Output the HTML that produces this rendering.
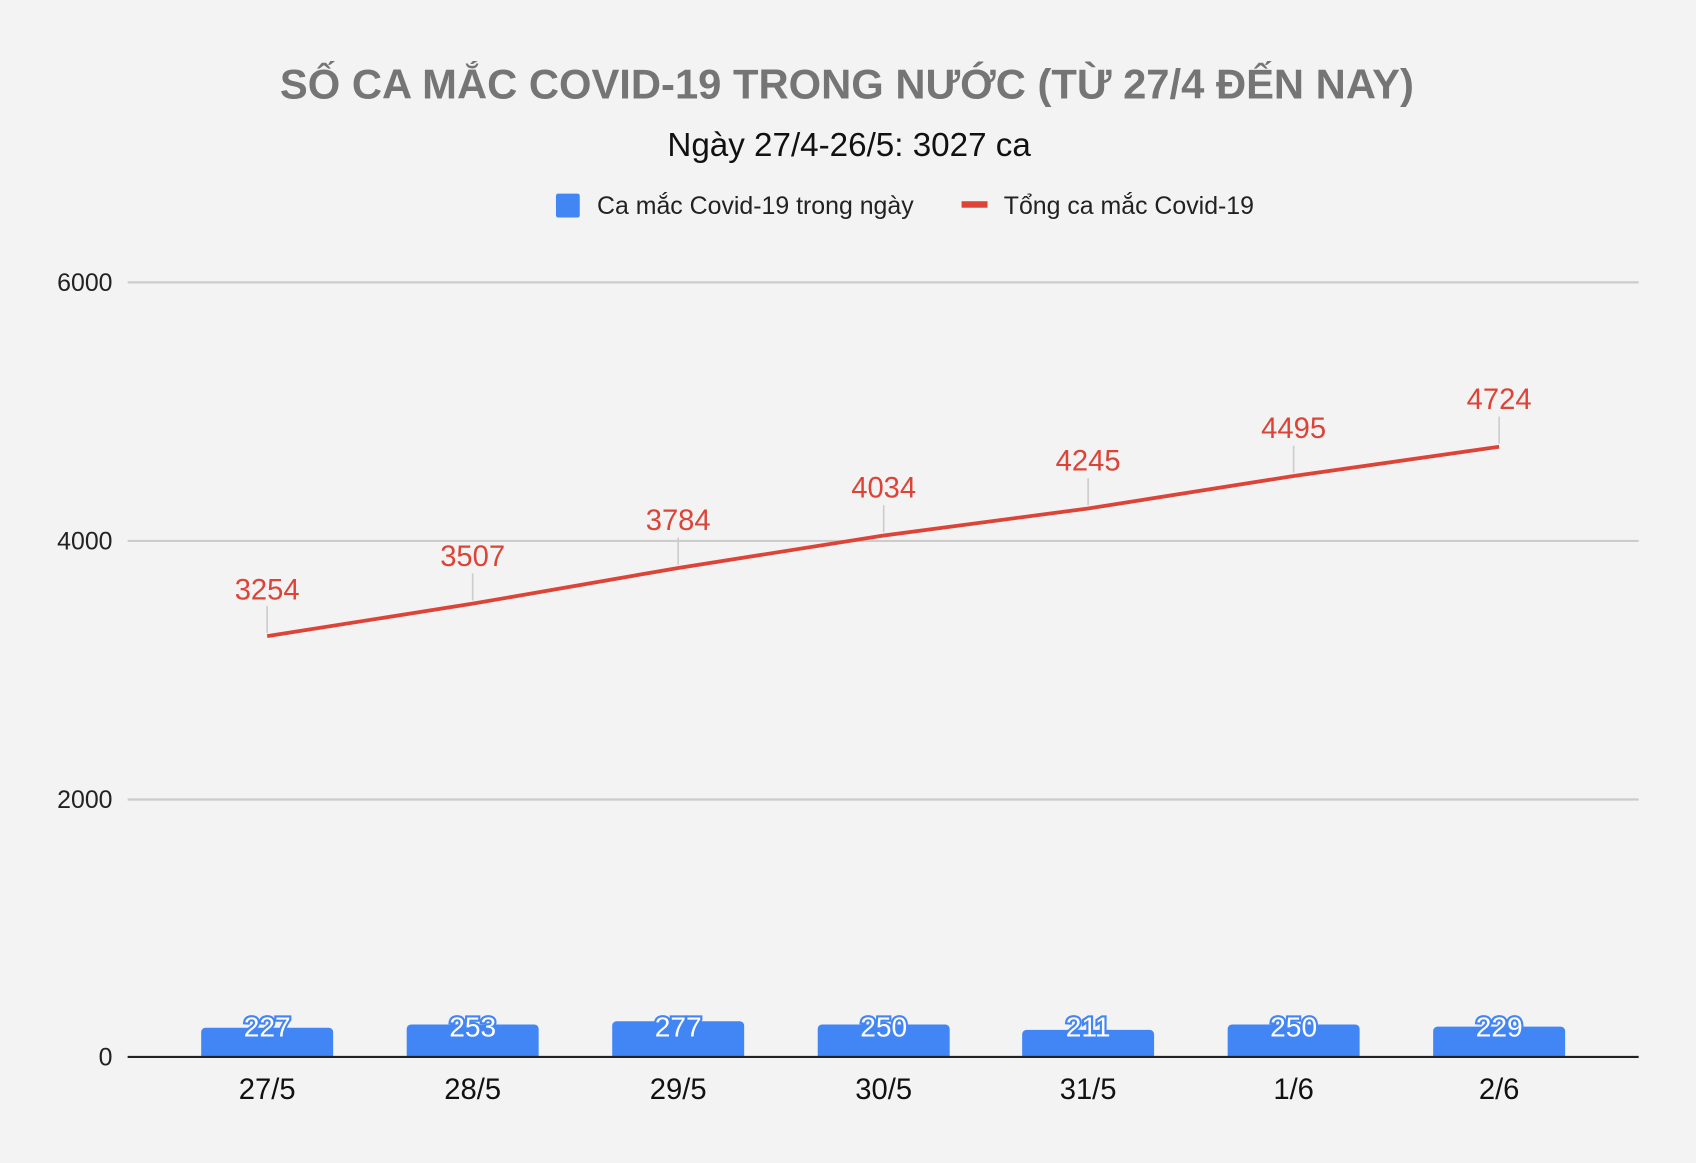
<!DOCTYPE html>
<html><head><meta charset="utf-8"><style>html,body{margin:0;padding:0;background:#f3f3f3}svg{display:block}</style></head>
<body>
<svg width="1696" height="1163" viewBox="0 0 1568 1075" preserveAspectRatio="none" xmlns="http://www.w3.org/2000/svg" font-family="Liberation Sans, Noto Sans CJK SC, sans-serif">
<rect width="1568" height="1075" fill="#f3f3f3"/>
<text x="783" y="91" text-anchor="middle" font-size="38.6" font-weight="bold" fill="#757575">SỐ CA MẮC COVID-19 TRONG NƯỚC (TỪ 27/4 ĐẾN NAY)</text>
<text x="785" y="144" text-anchor="middle" font-size="30.7" fill="#111">Ngày 27/4-26/5: 3027 ca</text>
<rect x="514" y="179" width="22" height="22" rx="2" fill="#4285f4"/>
<text x="552" y="198" font-size="23" fill="#222">Ca mắc Covid-19 trong ngày</text>
<rect x="889" y="186" width="24" height="6" fill="#db4437"/>
<text x="928" y="198" font-size="23" fill="#222">Tổng ca mắc Covid-19</text>
<g stroke="#cccccc" stroke-width="2">
<line x1="118" y1="261" x2="1515" y2="261"/><line x1="118" y1="500" x2="1515" y2="500"/><line x1="118" y1="739" x2="1515" y2="739"/>
</g>
<g font-size="23" fill="#222" text-anchor="end">
<text x="104" y="269">6000</text><text x="104" y="508">4000</text><text x="104" y="747">2000</text><text x="104" y="985">0</text>
</g>
<g fill="#4285f4">
<path d="M186,977V954a4,4 0 0 1 4,-4H304a4,4 0 0 1 4,4V977Z"/>
<path d="M376,977V951a4,4 0 0 1 4,-4H494a4,4 0 0 1 4,4V977Z"/>
<path d="M566,977V948a4,4 0 0 1 4,-4H684a4,4 0 0 1 4,4V977Z"/>
<path d="M756,977V951a4,4 0 0 1 4,-4H874a4,4 0 0 1 4,4V977Z"/>
<path d="M945,977V956a4,4 0 0 1 4,-4H1063a4,4 0 0 1 4,4V977Z"/>
<path d="M1135,977V951a4,4 0 0 1 4,-4H1253a4,4 0 0 1 4,4V977Z"/>
<path d="M1325,977V953a4,4 0 0 1 4,-4H1443a4,4 0 0 1 4,4V977Z"/>
</g>
<line x1="118" y1="977" x2="1515" y2="977" stroke="#222" stroke-width="2"/>
<g font-size="26" fill="#fff" stroke="#4285f4" stroke-width="4" paint-order="stroke" text-anchor="middle">
<text x="247" y="958">227</text><text x="437" y="958">253</text><text x="627" y="958">277</text><text x="817" y="958">250</text><text x="1006" y="958">211</text><text x="1196" y="958">250</text><text x="1386" y="958">229</text>
</g>
<g stroke="#cccccc" stroke-width="1.5">
<line x1="247" y1="560" x2="247" y2="585"/><line x1="437" y1="530" x2="437" y2="555"/><line x1="627" y1="497" x2="627" y2="522"/><line x1="817" y1="467" x2="817" y2="492"/><line x1="1006" y1="442" x2="1006" y2="467"/><line x1="1196" y1="412" x2="1196" y2="437"/><line x1="1386" y1="385" x2="1386" y2="410"/>
</g>
<polyline fill="none" stroke="#db4437" stroke-width="3.5" points="247,588 437,558 627,525 817,495 1006,470 1196,440 1386,413"/>
<g font-size="27" fill="#db4437" text-anchor="middle">
<text x="247" y="554">3254</text><text x="437" y="523">3507</text><text x="627" y="490">3784</text><text x="817" y="460">4034</text><text x="1006" y="435">4245</text><text x="1196" y="405">4495</text><text x="1386" y="378">4724</text>
</g>
<g font-size="27" fill="#111" text-anchor="middle">
<text x="247" y="1016">27/5</text><text x="437" y="1016">28/5</text><text x="627" y="1016">29/5</text><text x="817" y="1016">30/5</text><text x="1006" y="1016">31/5</text><text x="1196" y="1016">1/6</text><text x="1386" y="1016">2/6</text>
</g>
</svg>
</body></html>
